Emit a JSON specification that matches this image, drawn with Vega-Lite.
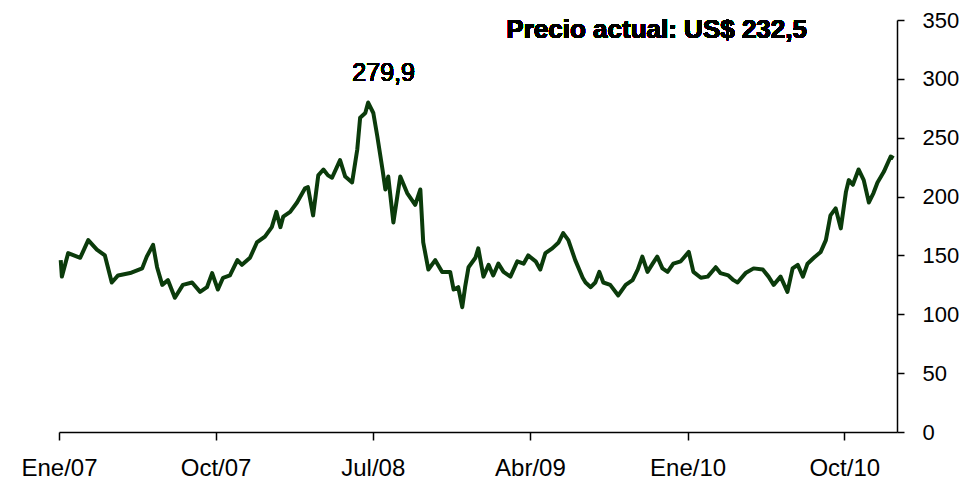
{
  "$schema": "https://vega.github.io/schema/vega-lite/v6.json",
  "width": 838,
  "height": 412,
  "autosize": {"type": "none"},
  "padding": {"left": 59, "top": 20, "right": 80, "bottom": 53},
  "background": "white",
  "config": {"view": {"stroke": null}, "font": "Liberation Sans"},
  "data": {"values": [
    {"date":"2007-01-04","price":146},{"date":"2007-01-06","price":132},{"date":"2007-01-17","price":152},
    {"date":"2007-02-07","price":148},{"date":"2007-02-21","price":163},{"date":"2007-03-08","price":155},
    {"date":"2007-03-22","price":150},{"date":"2007-04-03","price":127},{"date":"2007-04-14","price":133},
    {"date":"2007-05-05","price":135},{"date":"2007-05-26","price":139},{"date":"2007-06-03","price":149},
    {"date":"2007-06-14","price":159},{"date":"2007-06-21","price":140},{"date":"2007-06-30","price":125},
    {"date":"2007-07-10","price":129},{"date":"2007-07-22","price":114},{"date":"2007-08-05","price":125},
    {"date":"2007-08-21","price":127},{"date":"2007-09-04","price":119},{"date":"2007-09-16","price":123},
    {"date":"2007-09-25","price":135},{"date":"2007-10-05","price":121},{"date":"2007-10-14","price":131},
    {"date":"2007-10-26","price":133},{"date":"2007-11-08","price":146},{"date":"2007-11-16","price":142},
    {"date":"2007-11-30","price":148},{"date":"2007-12-12","price":161},{"date":"2007-12-26","price":166},
    {"date":"2008-01-07","price":174},{"date":"2008-01-15","price":187},{"date":"2008-01-22","price":174},
    {"date":"2008-01-27","price":183},{"date":"2008-02-08","price":187},{"date":"2008-02-20","price":195},
    {"date":"2008-03-05","price":207},{"date":"2008-03-10","price":208},{"date":"2008-03-19","price":184},
    {"date":"2008-03-28","price":218},{"date":"2008-04-06","price":223},{"date":"2008-04-14","price":218},
    {"date":"2008-04-21","price":216},{"date":"2008-05-05","price":231},{"date":"2008-05-14","price":217},
    {"date":"2008-05-26","price":212},{"date":"2008-06-04","price":240},{"date":"2008-06-09","price":267},
    {"date":"2008-06-18","price":271},{"date":"2008-06-23","price":279.9},{"date":"2008-07-02","price":271},
    {"date":"2008-07-09","price":251},{"date":"2008-07-18","price":223},{"date":"2008-07-23","price":206},
    {"date":"2008-07-28","price":217},{"date":"2008-08-06","price":178},{"date":"2008-08-18","price":217},
    {"date":"2008-08-30","price":203},{"date":"2008-09-13","price":193},{"date":"2008-09-22","price":206},
    {"date":"2008-09-27","price":161},{"date":"2008-10-06","price":138},{"date":"2008-10-18","price":146},
    {"date":"2008-10-30","price":136},{"date":"2008-11-13","price":136},{"date":"2008-11-19","price":121},
    {"date":"2008-11-27","price":123},{"date":"2008-12-04","price":106},{"date":"2008-12-09","price":123},
    {"date":"2008-12-15","price":140},{"date":"2008-12-27","price":148},{"date":"2009-01-01","price":156},
    {"date":"2009-01-10","price":132},{"date":"2009-01-19","price":142},{"date":"2009-01-27","price":133},
    {"date":"2009-02-05","price":143},{"date":"2009-02-14","price":136},{"date":"2009-02-26","price":132},
    {"date":"2009-03-10","price":145},{"date":"2009-03-21","price":143},{"date":"2009-03-29","price":150},
    {"date":"2009-04-11","price":145},{"date":"2009-04-19","price":138},{"date":"2009-04-28","price":152},
    {"date":"2009-05-10","price":156},{"date":"2009-05-21","price":161},{"date":"2009-05-29","price":169},
    {"date":"2009-06-07","price":163},{"date":"2009-06-19","price":146},{"date":"2009-07-02","price":131},
    {"date":"2009-07-07","price":127},{"date":"2009-07-16","price":123},{"date":"2009-07-24","price":127},
    {"date":"2009-07-31","price":136},{"date":"2009-08-07","price":127},{"date":"2009-08-19","price":125},
    {"date":"2009-09-02","price":116},{"date":"2009-09-15","price":125},{"date":"2009-09-27","price":129},
    {"date":"2009-10-06","price":138},{"date":"2009-10-14","price":149},{"date":"2009-10-23","price":136},
    {"date":"2009-11-01","price":143},{"date":"2009-11-09","price":149},{"date":"2009-11-18","price":139},
    {"date":"2009-11-27","price":136},{"date":"2009-12-07","price":143},{"date":"2009-12-20","price":145},
    {"date":"2010-01-03","price":153},{"date":"2010-01-11","price":136},{"date":"2010-01-24","price":131},
    {"date":"2010-02-05","price":132},{"date":"2010-02-19","price":140},{"date":"2010-02-27","price":135},
    {"date":"2010-03-13","price":133},{"date":"2010-03-22","price":129},{"date":"2010-03-29","price":127},
    {"date":"2010-04-12","price":135},{"date":"2010-04-26","price":139},{"date":"2010-05-12","price":138},
    {"date":"2010-05-22","price":132},{"date":"2010-05-31","price":125},{"date":"2010-06-12","price":132},
    {"date":"2010-06-24","price":119},{"date":"2010-07-03","price":139},{"date":"2010-07-12","price":142},
    {"date":"2010-07-21","price":132},{"date":"2010-07-29","price":143},{"date":"2010-08-09","price":148},
    {"date":"2010-08-21","price":153},{"date":"2010-08-30","price":163},{"date":"2010-09-07","price":184},
    {"date":"2010-09-16","price":190},{"date":"2010-09-25","price":173},{"date":"2010-10-04","price":204},
    {"date":"2010-10-09","price":214},{"date":"2010-10-16","price":210},{"date":"2010-10-26","price":223},
    {"date":"2010-11-04","price":214},{"date":"2010-11-13","price":195},{"date":"2010-11-21","price":203},
    {"date":"2010-11-28","price":212},{"date":"2010-12-09","price":221},{"date":"2010-12-21","price":234},
    {"date":"2010-12-26","price":232.5}
  ]},
  "layer": [
    {
      "mark": {"type": "line", "color": "#0b3b0b", "strokeWidth": 4, "strokeJoin": "round"},
      "encoding": {
        "x": {
          "field": "date", "type": "temporal",
          "scale": {"type": "utc", "domain": [{"year": 2007, "month": 1, "date": 1, "utc": true}, {"year": 2011, "month": 1, "date": 1, "utc": true}]},
          "axis": {
            "title": null, "grid": false,
            "values": [
              {"year": 2007, "month": 1, "date": 1, "utc": true},
              {"year": 2007, "month": 10, "date": 1, "utc": true},
              {"year": 2008, "month": 7, "date": 1, "utc": true},
              {"year": 2009, "month": 4, "date": 1, "utc": true},
              {"year": 2010, "month": 1, "date": 1, "utc": true},
              {"year": 2010, "month": 10, "date": 1, "utc": true}
            ],
            "labelExpr": "['Ene','Feb','Mar','Abr','May','Jun','Jul','Ago','Sep','Oct','Nov','Dic'][utcmonth(datum.value)] + '/' + utcFormat(datum.value, '%y')",
            "domainColor": "#000000", "domainWidth": 1.5,
            "tickColor": "#000000", "tickWidth": 1.5, "tickSize": 8,
            "labelColor": "#000000", "labelFontSize": 24, "labelPadding": 16,
            "labelFont": "Liberation Sans", "labelFlush": false
          }
        },
        "y": {
          "field": "price", "type": "quantitative",
          "scale": {"domain": [0, 350], "nice": false, "zero": true},
          "axis": {
            "orient": "right", "title": null, "grid": false,
            "values": [0, 50, 100, 150, 200, 250, 300, 350],
            "domainColor": "#000000", "domainWidth": 1.5,
            "tickColor": "#000000", "tickWidth": 1.5, "tickSize": 7,
            "labelColor": "#000000", "labelFontSize": 22, "labelPadding": 18,
            "labelFont": "Liberation Sans", "labelFlush": false
          }
        }
      }
    },
    {
      "mark": {"type": "text", "text": "279,9", "fontSize": 25, "font": "Liberation Sans", "color": "#000000", "align": "center", "baseline": "middle"},
      "encoding": {
        "x": {"datum": {"year": 2008, "month": 7, "date": 20, "utc": true}, "type": "temporal"},
        "y": {"datum": 305, "type": "quantitative"}
      }
    },
    {
      "mark": {"type": "text", "text": "Precio actual: US$ 232,5", "fontSize": 26, "fontWeight": "bold", "font": "Liberation Sans", "color": "#000000", "align": "center", "baseline": "middle"},
      "encoding": {
        "x": {"datum": {"year": 2009, "month": 11, "date": 8, "utc": true}, "type": "temporal"},
        "y": {"datum": 341.5, "type": "quantitative"}
      }
    }
  ]
}
